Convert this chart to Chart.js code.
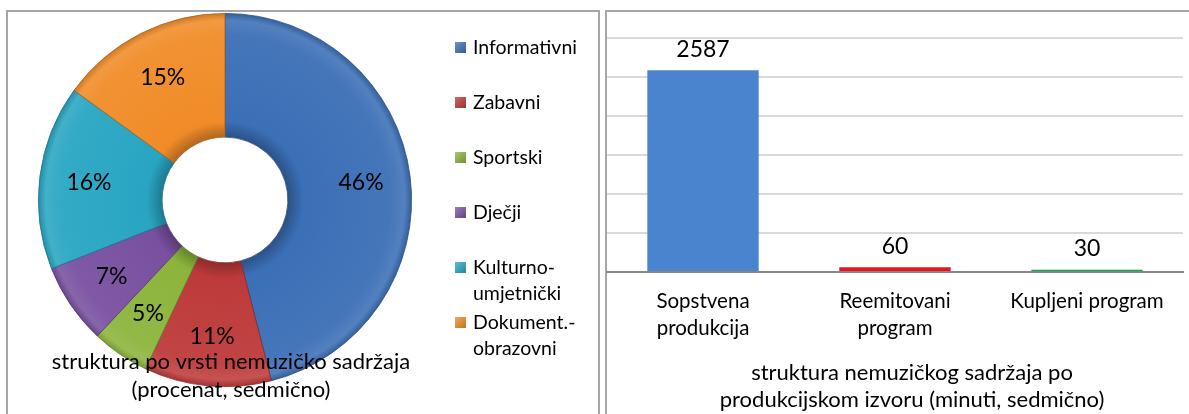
<!DOCTYPE html>
<html>
<head>
<meta charset="utf-8">
<script src="https://cdn.jsdelivr.net/npm/chart.js@4.4.1/dist/chart.umd.min.js"></script>
<style>
  html, body { margin: 0; padding: 0; background: #fff; width: 1189px; height: 414px; overflow: hidden; }
  .panel { position: absolute; border: 2px solid #a6a6a6; box-sizing: border-box; }
  canvas { position: absolute; top: 0; }
</style>
</head>
<body>
<div class="panel" style="left:6px; top:10px; width:594px; height:420px;"></div>
<div class="panel" style="left:605px; top:10px; width:600px; height:420px;"></div>
<canvas id="pie" width="600" height="414" style="left:0px;"></canvas>
<canvas id="bar" width="589" height="414" style="left:600px;"></canvas>
<script>
// ---- data ----
const pieCategories = ['Informativni', 'Zabavni', 'Sportski', 'Dječji', 'Kulturno-umjetnički', 'Dokument.-obrazovni'];
const pieValues = [46, 11, 5, 7, 16, 15];
const pieColors = ['#3b6fb6', '#be3a3a', '#8cb43c', '#7850a0', '#28a5c3', '#f08c28'];
const pieTitle = ['struktura po vrsti nemuzičko sadržaja', '(procenat, sedmično)'];

const barCategories = ['Sopstvena produkcija', 'Reemitovani program', 'Kupljeni program'];
const barValues = [2587, 60, 30];
const barColors = ['#4a84cf', '#e8141b', '#0aa84a'];
const barTitle = ['struktura nemuzičkog sadržaja po', 'produkcijskom izvoru (minuti, sedmično)'];
const barTickStep = 500;
const barMax = 3000;

const FONT = 'Lato, "Open Sans", sans-serif';

function shade(hex, f) {
  const n = parseInt(hex.slice(1), 16);
  let r = (n >> 16) & 255, g = (n >> 8) & 255, b = n & 255;
  if (f >= 0) { r += (255 - r) * f; g += (255 - g) * f; b += (255 - b) * f; }
  else { r *= 1 + f; g *= 1 + f; b *= 1 + f; }
  return `rgb(${Math.round(r)},${Math.round(g)},${Math.round(b)})`;
}

// ---- doughnut ----
const pieLabelsPlugin = {
  id: 'pieLabels',
  afterDatasetsDraw(chart) {
    const ctx = chart.ctx;
    const meta = chart.getDatasetMeta(0);
    ctx.save();
    ctx.font = '23px ' + FONT;
    ctx.fillStyle = '#000';
    ctx.textAlign = 'center';
    ctx.textBaseline = 'middle';
    meta.data.forEach((arc, i) => {
      const p = arc.getProps(['x', 'y', 'startAngle', 'endAngle', 'innerRadius', 'outerRadius'], true);
      const a = (p.startAngle + p.endAngle) / 2;
      const r = p.innerRadius + (p.outerRadius - p.innerRadius) * 0.6;
      ctx.fillText(pieValues[i] + '%', p.x + Math.cos(a) * r, p.y + Math.sin(a) * r);
    });
    // title
    ctx.font = '22px ' + FONT;
    pieTitle.forEach((t, k) => ctx.fillText(t, 231, 362 + k * 28));
    // legend
    const lx = 455, ly0 = 48, step = 55, lineH = 25.5, maxW = 122;
    ctx.textAlign = 'left';
    ctx.font = '19.5px ' + FONT;
    let y = ly0;
    pieCategories.forEach((name, i) => {
      let lines = [name];
      if (ctx.measureText(name).width > maxW && name.indexOf('-') > 0) {
        const k = name.indexOf('-');
        lines = [name.slice(0, k + 1), name.slice(k + 1)];
      }
      const g = ctx.createLinearGradient(lx, y - 6, lx + 11, y + 6);
      g.addColorStop(0, shade(pieColors[i], 0.25));
      g.addColorStop(1, shade(pieColors[i], -0.2));
      ctx.fillStyle = g;
      ctx.fillRect(lx, y - 6, 11, 11);
      ctx.fillStyle = '#000';
      lines.forEach((ln, j) => ctx.fillText(ln, lx + 18, y + j * lineH));
      y += step;
    });
    ctx.restore();
  }
};

new Chart(document.getElementById('pie'), {
  type: 'doughnut',
  data: {
    labels: pieCategories,
    datasets: [{
      data: pieValues,
      backgroundColor(c) {
        const chart = c.chart;
        const area = chart.chartArea;
        const base = pieColors[c.dataIndex];
        if (!area) return base;
        const cx = (area.left + area.right) / 2, cy = (area.top + area.bottom) / 2;
        const R = Math.min(area.width, area.height) / 2;
        const g = chart.ctx.createRadialGradient(cx, cy, 0, cx, cy, R);
        g.addColorStop(0, shade(base, -0.3));
        g.addColorStop(0.34, shade(base, -0.25));
        g.addColorStop(0.42, base);
        g.addColorStop(0.88, shade(base, 0.05));
        g.addColorStop(0.96, shade(base, 0.12));
        g.addColorStop(1, shade(base, -0.15));
        return g;
      },
      borderColor: pieColors.map(c => shade(c, -0.3)),
      borderWidth: 0.8
    }]
  },
  options: {
    responsive: false,
    animation: false,
    cutout: '33.7%',
    layout: { padding: { left: 38, top: 13, right: 188, bottom: 27 } },
    plugins: { legend: { display: false }, tooltip: { enabled: false }, title: { display: false } }
  },
  plugins: [pieLabelsPlugin]
});

// ---- bar ----
const barLabelsPlugin = {
  id: 'barLabels',
  afterDatasetsDraw(chart) {
    const ctx = chart.ctx;
    const meta = chart.getDatasetMeta(0);
    ctx.save();
    ctx.font = '23px ' + FONT;
    ctx.fillStyle = '#000';
    ctx.textAlign = 'center';
    ctx.textBaseline = 'middle';
    meta.data.forEach((bar, i) => {
      ctx.fillText(String(barValues[i]), bar.x, bar.y - 21);
    });
    ctx.font = '22px ' + FONT;
    barTitle.forEach((t, k) => ctx.fillText(t, 312, 373 + k * 27));
    ctx.restore();
  }
};

new Chart(document.getElementById('bar'), {
  type: 'bar',
  data: {
    labels: barCategories,
    datasets: [{
      data: barValues,
      backgroundColor(c) {
        const chart = c.chart;
        const el = chart.getDatasetMeta(0).data[c.dataIndex];
        const base = barColors[c.dataIndex];
        if (!el || !isFinite(el.x) || !isFinite(el.width) || c.raw < 200) return base;
        const x0 = el.x - el.width / 2, x1 = el.x + el.width / 2;
        const g = chart.ctx.createLinearGradient(x0, 0, x1, 0);
        g.addColorStop(0, shade(base, -0.25));
        g.addColorStop(0.06, shade(base, -0.05));
        g.addColorStop(0.5, shade(base, 0.05));
        g.addColorStop(0.94, shade(base, -0.05));
        g.addColorStop(1, shade(base, -0.3));
        return g;
      },
      borderWidth: 0,
      barPercentage: 0.58,
      categoryPercentage: 1.0
    }]
  },
  options: {
    responsive: false,
    animation: false,
    layout: { padding: { left: 7, top: 38, right: 6, bottom: 0 } },
    plugins: { legend: { display: false }, tooltip: { enabled: false } },
    scales: {
      x: {
        grid: { display: false, drawTicks: false },
        border: { display: true, color: '#868686', width: 2 },
        ticks: {
          color: '#000',
          padding: 15,
          font: { family: FONT, size: 20.5, lineHeight: 1.36 },
          maxRotation: 0,
          callback(v, i) {
            const s = barCategories[i];
            return s.length > 16 ? s.split(' ') : s;
          }
        },
        afterFit(scale) { scale.height = 414 - 272; }
      },
      y: {
        min: 0,
        max: barMax,
        ticks: { display: false, stepSize: barTickStep },
        grid: {
          color: (c) => c.tick && c.tick.value === 0 ? 'rgba(0,0,0,0)' : '#d9d9d9',
          lineWidth: 2,
          drawTicks: false
        },
        border: { display: false },
        afterFit(scale) { scale.width = 0; }
      }
    }
  },
  plugins: [barLabelsPlugin]
});
</script>
</body>
</html>
